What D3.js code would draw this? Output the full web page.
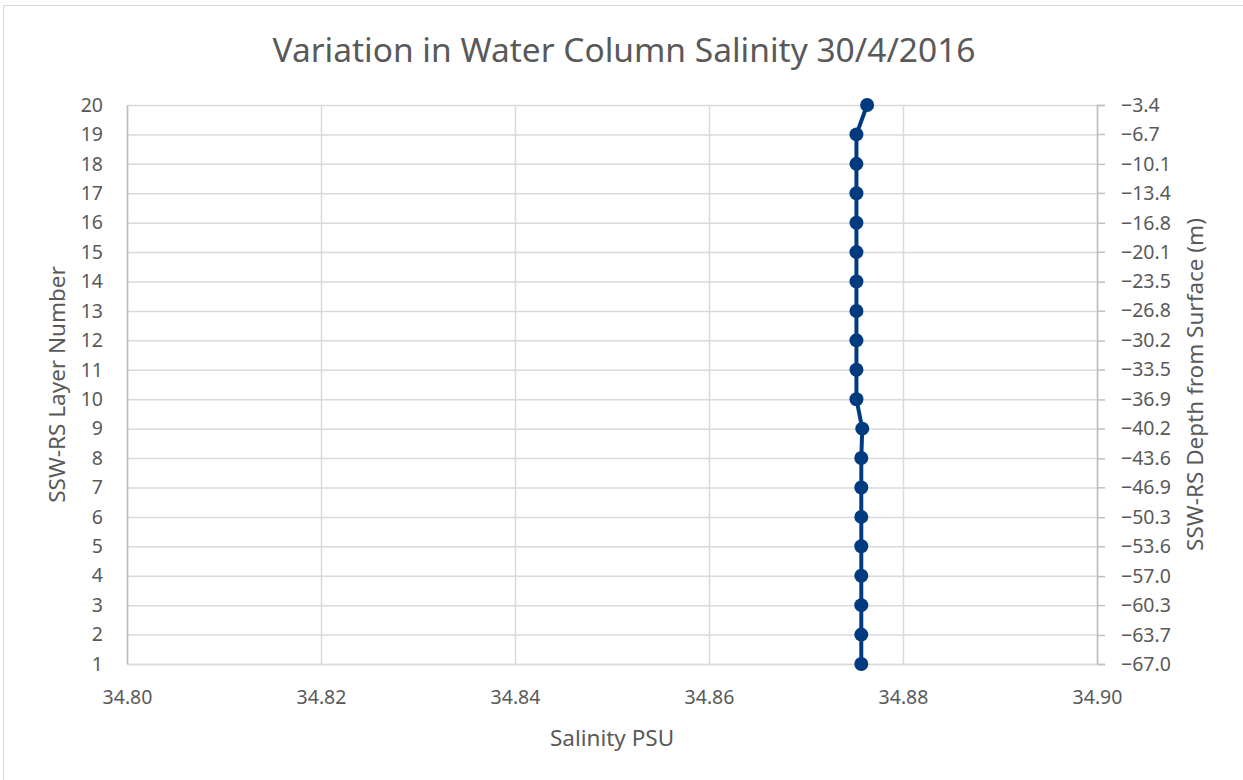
<!DOCTYPE html>
<html>
<head>
<meta charset="utf-8">
<script src="https://cdn.jsdelivr.net/npm/d3@7"></script>
<style>
  html, body { margin: 0; padding: 0; background: #fff; }
  svg { display: block; font-family: "Noto Sans", "Open Sans", sans-serif; }
</style>
</head>
<body>
<svg id="chart" width="1243" height="780"></svg>
<script>
// Water column salinity by SSW-RS layer (1 = bottom, 20 = surface)
const layers = [1, 2, 3, 4, 5, 6, 7, 8, 9, 10, 11, 12, 13, 14, 15, 16, 17, 18, 19, 20];
const salinity = [
  34.8757, 34.8757, 34.8757, 34.8757, 34.8757, 34.8757, 34.8757, 34.8757, 34.8758,
  34.8752, 34.8752, 34.8752, 34.8752, 34.8752, 34.8752, 34.8752, 34.8752, 34.8752, 34.8752,
  34.8763
];
// Depth of each layer below the surface (m), same order as layers
const depths = [-67.0, -63.7, -60.3, -57.0, -53.6, -50.3, -46.9, -43.6, -40.2, -36.9,
                -33.5, -30.2, -26.8, -23.5, -20.1, -16.8, -13.4, -10.1, -6.7, -3.4];
const xTicks = [34.80, 34.82, 34.84, 34.86, 34.88, 34.90];

const titleText = "Variation in Water Column Salinity 30/4/2016";
const xTitle = "Salinity PSU";
const yTitle = "SSW-RS Layer Number";
const y2Title = "SSW-RS Depth from Surface (m)";

const svg = d3.select("#chart");
const W = 1243, H = 780;
const plot = { left: 127, right: 1097, top: 105, bottom: 664 };
const textColor = "#595959";
const gridColor = "#d9d9d9";
const lineColor = "#003b80";
const tickFont = 19.5;
const titleFont = 22.5;

// chart frame
svg.append("rect")
  .attr("x", 3.5).attr("y", 5.5)
  .attr("width", W).attr("height", H)
  .attr("fill", "#fff").attr("stroke", "#d9d9d9").attr("stroke-width", 1);

const x = d3.scaleLinear().domain([34.80, 34.90]).range([plot.left, plot.right]);
const y = d3.scaleLinear().domain([1, 20]).range([plot.bottom, plot.top]);
const y2 = d3.scaleLinear().domain([d3.min(depths), d3.max(depths)]).range([plot.bottom, plot.top]);

// vertical gridlines
svg.append("g")
  .attr("transform", `translate(0,${plot.bottom})`)
  .call(d3.axisBottom(x).tickValues(xTicks).tickSize(-(plot.bottom - plot.top)).tickFormat(""))
  .call(g => g.select(".domain").remove())
  .call(g => g.selectAll("line").attr("stroke", gridColor).attr("stroke-width", 1.5));

// horizontal gridlines
svg.append("g")
  .attr("transform", `translate(${plot.left},0)`)
  .call(d3.axisLeft(y).tickValues(layers).tickSize(-(plot.right - plot.left)).tickFormat(""))
  .call(g => g.select(".domain").remove())
  .call(g => g.selectAll("line").attr("stroke", gridColor).attr("stroke-width", 1.5));

// left axis: layer numbers
svg.append("g")
  .attr("transform", `translate(${plot.left},0)`)
  .call(d3.axisLeft(y).tickValues(layers).tickSize(0).tickPadding(24).tickFormat(d3.format("d")))
  .call(g => g.attr("font-size", tickFont).attr("font-family", null))
  .call(g => g.select(".domain").attr("stroke", "#bfbfbf").attr("stroke-width", 1.5))
  .call(g => g.selectAll("text").attr("fill", textColor));

// right axis: depth from surface
svg.append("g")
  .attr("transform", `translate(${plot.right},0)`)
  .call(d3.axisRight(y2).tickValues(depths).tickSize(8).tickPadding(16).tickFormat(d3.format(".1f")))
  .call(g => g.attr("font-size", tickFont).attr("font-family", null))
  .call(g => g.select(".domain").attr("stroke", "#bfbfbf").attr("stroke-width", 1.5))
  .call(g => g.selectAll("line").attr("stroke", "#bfbfbf").attr("stroke-width", 1.5))
  .call(g => g.selectAll("text").attr("fill", textColor));

// bottom axis labels
svg.append("g")
  .attr("transform", `translate(0,${plot.bottom})`)
  .call(d3.axisBottom(x).tickValues(xTicks).tickSize(0).tickPadding(26).tickFormat(d3.format(".2f")))
  .call(g => g.attr("font-size", tickFont).attr("font-family", null))
  .call(g => g.select(".domain").attr("stroke", gridColor).attr("stroke-width", 1.5))
  .call(g => g.selectAll("text").attr("fill", textColor));

// salinity profile line
const pts = layers.map((l, i) => ({ layer: l, s: salinity[i] }));
svg.append("path")
  .datum(pts)
  .attr("fill", "none")
  .attr("stroke", lineColor)
  .attr("stroke-width", 4)
  .attr("stroke-linejoin", "round")
  .attr("d", d3.line().x(d => x(d.s)).y(d => y(d.layer)));

svg.append("g").selectAll("circle")
  .data(pts)
  .join("circle")
  .attr("cx", d => x(d.s))
  .attr("cy", d => y(d.layer))
  .attr("r", 7)
  .attr("fill", lineColor);

// titles
svg.append("text")
  .attr("x", 624).attr("y", 62)
  .attr("text-anchor", "middle")
  .attr("fill", textColor)
  .attr("font-size", 33.5)
  .text(titleText);

svg.append("text")
  .attr("x", 612).attr("y", 746)
  .attr("text-anchor", "middle")
  .attr("fill", textColor)
  .attr("font-size", titleFont)
  .text(xTitle);

svg.append("text")
  .attr("transform", `translate(65,${(plot.top + plot.bottom) / 2}) rotate(-90)`)
  .attr("text-anchor", "middle")
  .attr("fill", textColor)
  .attr("font-size", titleFont)
  .text(yTitle);

svg.append("text")
  .attr("transform", `translate(1203,${(plot.top + plot.bottom) / 2}) rotate(-90)`)
  .attr("text-anchor", "middle")
  .attr("fill", textColor)
  .attr("font-size", titleFont)
  .text(y2Title);
</script>
</body>
</html>
